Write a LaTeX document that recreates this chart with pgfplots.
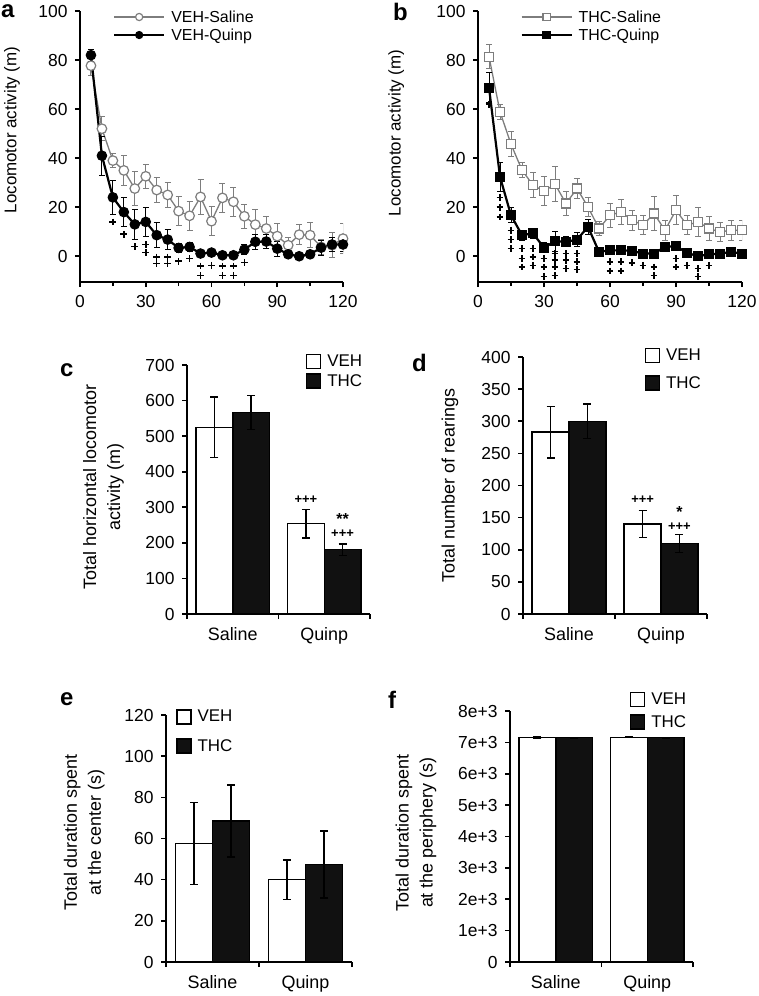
\documentclass[border=0pt]{standalone}
\usepackage{pgfplots}
\pgfplotsset{compat=1.18}
\usepackage{fontspec}
\setmainfont{Liberation Sans}
\definecolor{salgray}{RGB}{125,125,125}
\definecolor{barblack}{RGB}{17,17,17}
\newcommand{\tickfont}{\fontsize{17.5}{20}\selectfont}
\newcommand{\labfontA}{\fontsize{17}{24}\selectfont}
\newcommand{\labfontB}{\fontsize{18}{24}\selectfont}
\newcommand{\legfontA}{\fontsize{16}{18}\selectfont}
\newcommand{\legfontB}{\fontsize{17}{18}\selectfont}
\tikzset{
  sigplus/.style={font=\fontsize{13}{13}\selectfont\bfseries, inner sep=0pt},
  sigstar/.style={font=\fontsize{16}{16}\selectfont\bfseries, inner sep=0pt},
}
\pgfplotsset{
  every axis/.append style={
    font=\tickfont,
    scale only axis,
    anchor=south west,
    axis x line*=bottom, axis y line*=left,
    axis line style={line width=1.6bp, -},
    tick align=outside,
    major tick length=5bp,
    minor tick length=4bp,
    tick style={black, line width=1.6bp},
    /pgf/number format/assume math mode=true,
    tick label style={font=\tickfont},
    yticklabel style={xshift=-4bp},
    legend style={draw=none, fill=none, inner sep=0pt, column sep=4bp},
    legend cell align=left,
  },
  lineax/.style={
    xmin=0, xmax=120, ymin=-10.5, ymax=100,
    xtick={0,30,60,90,120}, minor xtick={15,45,75,105},
    ytick={0,20,40,60,80,100},
    xticklabel style={yshift=-5bp},
    label style={font=\labfontA},
    legend style={font=\legfontA, row sep=1bp},
  },
  lineleg/.style={legend image code/.code={\draw[mark repeat=2, mark phase=2, ##1, mark size=3.6bp] plot coordinates {(0bp,0bp) (25bp,0bp) (50bp,0bp)};}},
  barax/.style={
    xmin=-0.5, xmax=1.5,
    xtick={-0.5,0.5,1.5}, xticklabels={,,},
    extra x ticks={0,1}, extra x tick labels={Saline,Quinp},
    extra x tick style={major tick length=0pt, tick label style={font=\labfontB, yshift=-10bp}},
    ymin=0,
    label style={font=\labfontB},
    ylabel style={align=center},
    legend style={font=\legfontB},
  },
  vehbar/.style={ybar, bar width=0.4, bar shift=0pt, fill=white, draw=black, line width=1.5bp,
    error bars/y dir=both, error bars/y explicit, error bars/error bar style={black, line width=1.3bp},
    error bars/error mark options={rotate=90, mark size=4bp, black, line width=1.3bp}},
  thcbar/.style={ybar, bar width=0.4, bar shift=0pt, fill=barblack, draw=black, line width=1.5bp,
    error bars/y dir=both, error bars/y explicit, error bars/error bar style={black, line width=1.3bp},
    error bars/error mark options={rotate=90, mark size=4bp, black, line width=1.3bp}},
  vehleg/.style={draw=black, fill=white, line width=1.3bp, legend image code/.code={\draw[##1] (0bp,-7bp) rectangle (14bp,7bp);}},
  thcleg/.style={draw=black, fill=barblack, line width=1.3bp, legend image code/.code={\draw[##1] (0bp,-7bp) rectangle (14bp,7bp);}},
  plusmk/.style={only marks, mark=+, mark size=3.4bp, black, line width=1.5bp, forget plot},
}
\begin{document}
\begin{tikzpicture}
\path[use as bounding box] (0bp,0bp) rectangle (759bp,-996bp);

% ---------------- panel a
\begin{axis}[at={(80bp,-282bp)}, width=263bp, height=271bp, lineax,
  ylabel={Locomotor activity (m)},
  ylabel style={at={(axis description cs:-0.259,0.561)}, anchor=center},
  legend style={at={(0.125,1.01)}, anchor=north west},
]
\addplot[salgray, line width=1.3bp, mark=*, mark size=4.8bp, mark options={fill=white, draw=salgray, line width=1.2bp}, lineleg,
  error bars/.cd, y dir=both, y explicit, error bar style={salgray, line width=1bp}, error mark options={rotate=90, mark size=3bp, salgray, line width=1bp}]
  table[x=x, y=y, y error=e] {
x y e
5 77.7 4
10 52 5
15 39 3
20 35 6
25 27.6 7
30 32.6 5
35 27 5
40 25 5
45 18.4 6
50 16.5 6
55 24.2 7
60 14.3 6
65 23.8 6
70 22.2 6
75 16.3 5
80 12.9 6
85 11.3 5
90 8.2 5
95 4.5 3
100 8.8 4
105 8.6 5
110 3.8 3
115 4.5 5
120 7.2 6
};
\addlegendentry{VEH-Saline}
\addplot[black, line width=2.2bp, mark=*, mark size=4.8bp, mark options={fill=black, draw=black, line width=1bp}, lineleg,
  error bars/.cd, y dir=both, y explicit, error bar style={black, line width=1bp}, error mark options={rotate=90, mark size=3bp, black, line width=1bp}]
  table[x=x, y=y, y error=e] {
x y e
5 82 2.5
10 41 8
15 24 7
20 18 6
25 13 6
30 14 6
35 8.6 5
40 6.8 4
45 3.4 2
50 3.8 2
55 1.1 1
60 1.5 1
65 0.4 1
70 0.4 1
75 2.7 2
80 5.9 3
85 6 3
90 3.1 3
95 0.8 1
100 0 1
105 0.8 1
110 3.5 3
115 4.8 3
120 4.8 3
};
\addlegendentry{VEH-Quinp}
\addplot[plusmk] coordinates {(15,14) (20,9) (25,4) (30,4.8) (30,1.5) (35,-0.3) (35,-3) (40,-0.3) (40,-3) (45,-2) (50,-1) (55,-4) (55,-7.8) (60,-3.7) (65,-4) (65,-7.8) (70,-4) (70,-7.8) (75,-2.6)};
\end{axis}

% ---------------- panel b
\begin{axis}[at={(478bp,-282bp)}, width=264bp, height=271bp, lineax,
  ylabel={Locomotor activity (m)},
  ylabel style={at={(axis description cs:-0.31,0.55)}, anchor=center},
  legend style={at={(0.16,1.01)}, anchor=north west},
]
\addplot[salgray, line width=1.3bp, mark=square*, mark size=4.5bp, mark options={fill=white, draw=salgray, line width=1.2bp}, lineleg,
  error bars/.cd, y dir=both, y explicit, error bar style={salgray, line width=1bp}, error mark options={rotate=90, mark size=3bp, salgray, line width=1bp}]
  table[x=x, y=y, y error=e] {
x y e
5 81.4 5
10 58.9 3
15 45.7 5
20 35.1 3
25 29 5
30 26.5 6
35 29.4 7
40 21.5 5
45 27.6 4
50 20.1 4
55 11.3 3
60 16.7 5
65 18.1 5
70 14.7 4
75 12.7 4
80 17.4 7
85 10.6 4
90 18.8 6
95 12.7 4
100 14 6
105 11.3 5
110 9.9 4
115 10.6 4
120 10.6 4
};
\addlegendentry{THC-Saline}
\addplot[black, line width=2.2bp, mark=square*, mark size=4.5bp, mark options={fill=black, draw=black, line width=1bp}, lineleg,
  error bars/.cd, y dir=both, y explicit, error bar style={black, line width=1bp}, error mark options={rotate=90, mark size=3bp, black, line width=1bp}]
  table[x=x, y=y, y error=e] {
x y e
5 68.8 6
10 32.4 6
15 16.7 3
20 8.6 2
25 9.3 2
30 3.5 2
35 6.1 4
40 5.9 2
45 6.8 3
50 12 3
55 1.8 1
60 2.4 1
65 2.4 1
70 2.2 1
75 1.1 1
80 1.1 1
85 3.8 1
90 4.1 1
95 1.4 1
100 0 1
105 0.8 1
110 1.1 1
115 1.8 1
120 1.1 1
};
\addlegendentry{THC-Quinp}
\addplot[plusmk] coordinates {(5,62) (10,24) (10,20) (10,16) (15,10.6) (15,6.8) (15,3.1) (20,3.1) (20,-1) (20,-4.4) (25,3.1) (25,-0.3) (25,-3.7) (30,-1) (30,-4.4) (30,-8.2) (35,1.1) (35,-1.6) (35,-4.4) (35,-7.8) (40,1.1) (40,-1.6) (40,-5) (45,1.1) (45,-2.3) (45,-5.4) (60,-2.3) (60,-6) (65,-2.3) (65,-6) (70,-2.7) (75,-3.7) (80,-4.4) (80,-7.8) (90,-1) (90,-4.4) (95,-3.7) (100,-5) (100,-8.2) (105,-3.7)};
\end{axis}

% ---------------- panel c
\begin{axis}[at={(187bp,-614bp)}, width=183bp, height=249bp, barax,
  ymax=700, ytick={0,100,...,700},
  ylabel={Total horizontal locomotor\\activity (m)},
  ylabel style={at={(axis description cs:-0.456,0.51)}, anchor=center},
  legend style={at={(0.649,1.048)}, anchor=north west, row sep=2bp},
]
\addlegendimage{vehleg}\addlegendentry{VEH}
\addlegendimage{thcleg}\addlegendentry{THC}
\addplot[forget plot, vehbar] table[x=x, y=y, y error=e] {
x y e
-0.2 525 85
0.8 254 40
};
\addplot[forget plot, thcbar] table[x=x, y=y, y error=e] {
x y e
0.2 567 48
1.2 181 16
};
\node[sigplus] at (axis cs:0.8,320) {+++};
\node[sigstar] at (axis cs:1.2,268) {**};
\node[sigplus] at (axis cs:1.2,226) {+++};
\end{axis}

% ---------------- panel d
\begin{axis}[at={(523bp,-614bp)}, width=184bp, height=257bp, barax,
  ymax=400, ytick={0,50,...,400},
  ylabel={Total number of rearings},
  ylabel style={at={(axis description cs:-0.397,0.5)}, anchor=center},
  legend style={at={(0.661,1.039)}, anchor=north west, row sep=10bp},
]
\addlegendimage{vehleg}\addlegendentry{VEH}
\addlegendimage{thcleg}\addlegendentry{THC}
\addplot[forget plot, vehbar] table[x=x, y=y, y error=e] {
x y e
-0.2 283 40
0.8 140 21
};
\addplot[forget plot, thcbar] table[x=x, y=y, y error=e] {
x y e
0.2 300 27
1.2 110 14
};
\node[sigplus] at (axis cs:0.8,178) {+++};
\node[sigstar] at (axis cs:1.2,159) {*};
\node[sigplus] at (axis cs:1.2,136) {+++};
\end{axis}

% ---------------- panel e
\begin{axis}[at={(166bp,-962bp)}, width=186bp, height=247bp, barax,
  ymax=120, ytick={0,20,...,120},
  ylabel={Total duration spent\\at the center (s)},
  ylabel style={at={(axis description cs:-0.44,0.524)}, anchor=center},
  legend style={at={(0.054,1.028)}, anchor=north west, row sep=12bp},
]
\addlegendimage{vehleg}\addlegendentry{VEH}
\addlegendimage{thcleg}\addlegendentry{THC}
\addplot[forget plot, vehbar] table[x=x, y=y, y error=e] {
x y e
-0.2 57.5 20
0.8 40 9.5
};
\addplot[forget plot, thcbar] table[x=x, y=y, y error=e] {
x y e
0.2 68.5 17.5
1.2 47.4 16.3
};
\end{axis}

% ---------------- panel f
\begin{axis}[at={(510bp,-962bp)}, width=183bp, height=251bp, barax,
  ymax=8000, ytick={0,1000,...,8000},
  yticklabels={0,1e+3,2e+3,3e+3,4e+3,5e+3,6e+3,7e+3,8e+3},
  ylabel={Total duration spent\\at the periphery (s)},
  ylabel style={at={(axis description cs:-0.514,0.515)}, anchor=center},
  legend style={at={(0.655,1.08)}, anchor=north west, row sep=5bp},
]
\addlegendimage{vehleg}\addlegendentry{VEH}
\addlegendimage{thcleg}\addlegendentry{THC}
\addplot[forget plot, vehbar] table[x=x, y=y, y error=e] {
x y e
-0.2 7155 15
0.8 7160 15
};
\addplot[forget plot, thcbar] table[x=x, y=y, y error=e] {
x y e
0.2 7150 15
1.2 7150 15
};
\end{axis}

% panel letters
\node[anchor=base west, font=\fontsize{24}{24}\selectfont\bfseries, inner sep=0pt] at (1bp,-17bp) {a};
\node[anchor=base west, font=\fontsize{24}{24}\selectfont\bfseries, inner sep=0pt] at (393bp,-20bp) {b};
\node[anchor=base west, font=\fontsize{24}{24}\selectfont\bfseries, inner sep=0pt] at (60bp,-376bp) {c};
\node[anchor=base west, font=\fontsize{24}{24}\selectfont\bfseries, inner sep=0pt] at (412bp,-371bp) {d};
\node[anchor=base west, font=\fontsize{24}{24}\selectfont\bfseries, inner sep=0pt] at (60bp,-705bp) {e};
\node[anchor=base west, font=\fontsize{24}{24}\selectfont\bfseries, inner sep=0pt] at (388bp,-708bp) {f};
\end{tikzpicture}
\end{document}
